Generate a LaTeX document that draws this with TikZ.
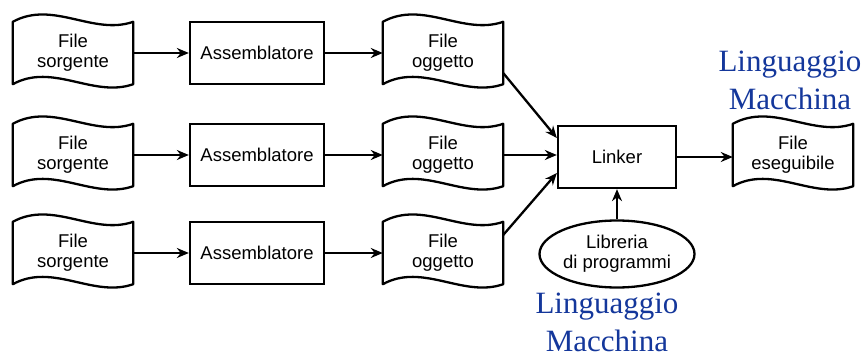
\documentclass[tikz,border=0pt]{standalone}
\usepackage{fontspec}
\setmainfont{Liberation Serif}
\setsansfont{Liberation Sans}
\usepackage{xcolor}
\usepackage{tikz}
\usetikzlibrary{arrows.meta,positioning,shapes.geometric}
\definecolor{lmblue}{RGB}{20,55,155}

\begin{document}
\begin{tikzpicture}[
  x=1pt, y=-1pt,
  font=\sffamily\fontsize{18.5}{20}\selectfont,
  >={Stealth[length=12pt,width=10pt]},
  % connectors
  flow/.style={draw=black, line width=2.3pt, ->},
  % file boxes: the node holds the text, the wavy outline is drawn afterwards
  fileDoc/.style={minimum width=120pt, minimum height=62pt,
                  align=center, inner sep=2pt},
  docLine/.style={draw=black, line width=2.3pt, line join=round},
  % process boxes
  procBox/.style={draw=black, line width=2.3pt, fill=white,
                  minimum width=134pt, minimum height=62pt, align=center},
  % library
  libBox/.style={ellipse, draw=black, line width=2.3pt, fill=white,
                 minimum width=155pt, minimum height=67pt, align=center,
                 inner sep=0pt},
  % blue notes
  note/.style={text=lmblue, font=\rmfamily\fontsize{31}{38}\selectfont,
               align=center, inner sep=0pt},
]
\useasboundingbox (0,0) rectangle (868,361);

% ── Column / row positions ───────────────────────────────────────────────
\def\xS{73}     % File sorgente
\def\xA{257}    % Assemblatore
\def\xO{443}    % File oggetto
\def\xL{617}    % Linker
\def\xE{793}    % File eseguibile
\def\yI{53}
\def\yII{155}
\def\yIII{253}

% ── Three translation chains ─────────────────────────────────────────────
\node[fileDoc] (src1) at (\xS,\yI)   {File\\sorgente};
\node[fileDoc] (src2) at (\xS,\yII)  {File\\sorgente};
\node[fileDoc] (src3) at (\xS,\yIII) {File\\sorgente};

\node[procBox] (asm1) at (\xA,\yI)   {Assemblatore};
\node[procBox] (asm2) at (\xA,\yII)  {Assemblatore};
\node[procBox] (asm3) at (\xA,\yIII) {Assemblatore};

\node[fileDoc] (obj1) at (\xO,\yI)   {File\\oggetto};
\node[fileDoc] (obj2) at (\xO,\yII)  {File\\oggetto};
\node[fileDoc] (obj3) at (\xO,\yIII) {File\\oggetto};

\draw[flow] (src1) -- (asm1);
\draw[flow] (src2) -- (asm2);
\draw[flow] (src3) -- (asm3);
\draw[flow] (asm1) -- (obj1);
\draw[flow] (asm2) -- (obj2);
\draw[flow] (asm3) -- (obj3);

% ── Linking ──────────────────────────────────────────────────────────────
\node[procBox, minimum width=118pt] (lnk) at (\xL,157) {Linker};
\node[fileDoc] (exe) at (\xE,\yII) {File\\eseguibile};
\node[libBox] (lib) at (\xL,254) {Libreria\\di programmi};

\draw[flow] ([yshift=-20pt]obj1.east) -- ([yshift=19pt]lnk.west);
\draw[flow] (obj2.east) -- (obj2.east -| lnk.west);
\draw[flow] ([yshift=18pt]obj3.east) -- ([yshift=-16pt]lnk.west);
\draw[flow] (lib) -- (lnk);
\draw[flow] (lnk.east) -- (lnk.east -| exe.west);

% ── Wavy file outlines ───────────────────────────────────────────────────
\foreach \f in {src1,src2,src3,obj1,obj2,obj3,exe}
  \draw[docLine] (\f.south west) -- (\f.north west)
    .. controls +(40,-22) and +(-40,14) .. (\f.north east)
    -- (\f.south east)
    .. controls +(-40,14) and +(40,-22) .. (\f.south west) -- cycle;

% ── Notes ────────────────────────────────────────────────────────────────
\node[note] (noteE) at (790,80)  {Linguaggio\\Macchina};
\node[note] (noteL) at (607,322) {Linguaggio\\Macchina};

\end{tikzpicture}
\end{document}
